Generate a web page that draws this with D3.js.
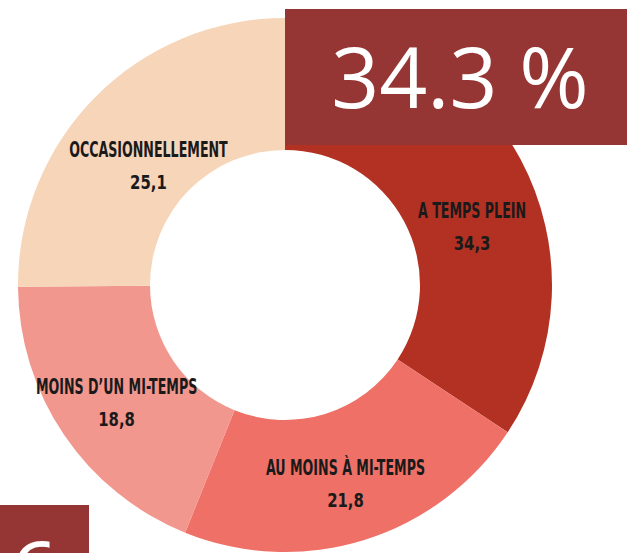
<!DOCTYPE html>
<html>
<head>
<meta charset="utf-8">
<script src="https://cdn.jsdelivr.net/npm/d3@7"></script>
<style>
  body { margin: 0; background: #fff; }
  svg { display: block; }
</style>
</head>
<body>
<div id="chart"></div>
<script>
        //data
        var categories = ["A TEMPS PLEIN", "AU MOINS \u00C0 MI-TEMPS", "MOINS D\u2019UN MI-TEMPS", "OCCASIONNELLEMENT"];
        var values = [34.3, 21.8, 18.8, 25.1];
        var valueLabels = ["34,3", "21,8", "18,8", "25,1"];
        var colors = ["#b33122", "#ef7066", "#f2978e", "#f6d5b9"];
        var highlight = "34.3 %";

        var width = 627, height = 553;
        var cx = 285, cy = 285, outerR = 267, innerR = 135;

        var svg = d3.select("#chart").append("svg")
            .attr("width", width)
            .attr("height", height);

        var g = svg.append("g")
            .attr("transform", "translate(" + cx + "," + cy + ")");

        var pie = d3.pie().sort(null).value(function(d) { return d; });
        var arcs = pie(values);

        var arc = d3.arc().innerRadius(innerR).outerRadius(outerR);

        g.selectAll("path")
            .data(arcs)
            .enter()
            .append("path")
            .attr("d", arc)
            .attr("fill", function(d, i) { return colors[i]; });

        //labels sit on a ring, nudged a bit per slice like the original
        var labelR = [196, 207, 205, 182];
        var labelShift = [0.19, 0.005, -0.01, -0.06];

        var labels = g.selectAll("g.lbl")
            .data(arcs)
            .enter()
            .append("g")
            .attr("class", "lbl")
            .attr("transform", function(d, i) {
                var a = (d.startAngle + d.endAngle) / 2 + labelShift[i];
                return "translate(" + (labelR[i] * Math.sin(a)) + "," + (-labelR[i] * Math.cos(a)) + ")";
            });

        labels.append("text")
            .attr("text-anchor", "middle")
            .attr("transform", "translate(0,-8) scale(0.74,1.08)")
            .style("font-family", "'Liberation Sans Narrow', 'DejaVu Sans Condensed', sans-serif")
            .style("font-weight", "bold")
            .style("font-size", "19px")
            .attr("fill", "#1a1a1a")
            .text(function(d, i) { return categories[i]; });

        labels.append("text")
            .attr("text-anchor", "middle")
            .attr("transform", "translate(0,24) scale(0.92,1.05)")
            .style("font-family", "'DejaVu Sans Condensed', sans-serif")
            .style("font-weight", "bold")
            .style("font-size", "18px")
            .attr("fill", "#1a1a1a")
            .text(function(d, i) { return valueLabels[i]; });

        //overlay boxes
        svg.append("rect")
            .attr("x", 285).attr("y", 9)
            .attr("width", 342).attr("height", 136)
            .attr("fill", "#963634");

        svg.append("text")
            .attr("x", 460).attr("y", 108)
            .attr("text-anchor", "middle")
            .style("font-family", "'Open Sans', sans-serif")
            .style("font-size", "84px")
            .attr("fill", "#fff")
            .text(highlight);

        svg.append("rect")
            .attr("x", 0).attr("y", 505)
            .attr("width", 89).attr("height", 48)
            .attr("fill", "#963634");

        svg.append("text")
            .attr("x", 10).attr("y", 602)
            .style("font-family", "'Open Sans', sans-serif")
            .style("font-size", "84px")
            .attr("fill", "#fff")
            .text("6");
</script>
</body>
</html>
